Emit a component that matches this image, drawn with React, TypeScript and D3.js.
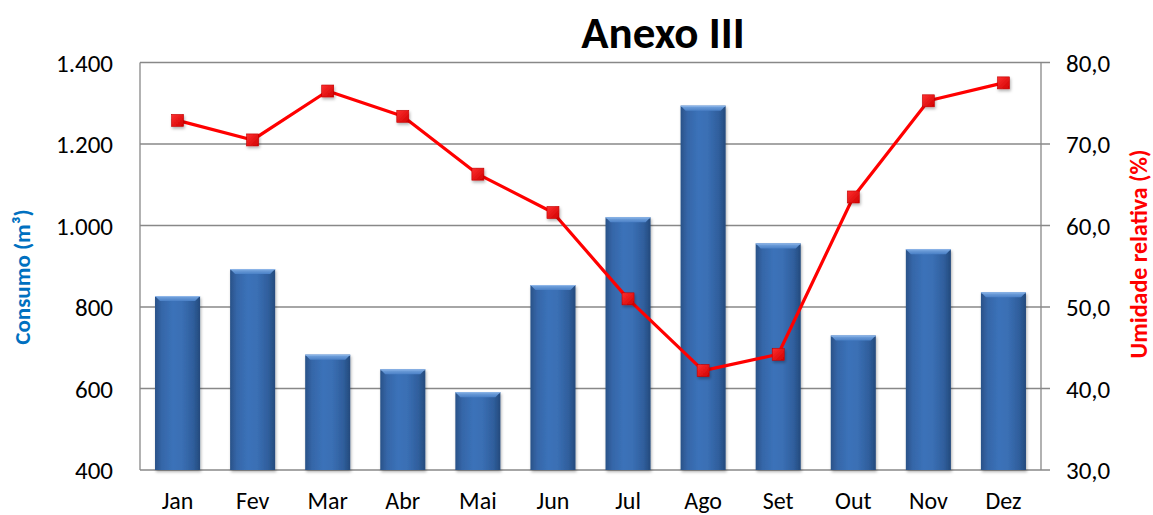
import React from "react";
import * as d3 from "d3";

const months = ["Jan", "Fev", "Mar", "Abr", "Mai", "Jun", "Jul", "Ago", "Set", "Out", "Nov", "Dez"];
const consumo = [827, 893, 683, 647, 591, 854, 1020, 1294, 956, 730, 942, 836];
const umidade = [72.9, 70.5, 76.5, 73.4, 66.3, 61.6, 51.0, 42.2, 44.2, 63.5, 75.3, 77.5];
const leftTicks = [400, 600, 800, 1000, 1200, 1400];
const rightTicks = [30, 40, 50, 60, 70, 80];
const title = "Anexo III";
const leftTitle = "Consumo (m³)";
const rightTitle = "Umidade relativa (%)";

const W = 1153;
const H = 515;
const plot = { left: 140, right: 1041, top: 62.5, bottom: 470 };
const FONT = "Carlito, Calibri, Lato, 'Open Sans', sans-serif";

const fmtLeft = (v: number) => d3.format(",")(v).replace(/,/g, ".");
const fmtRight = (v: number) => v.toFixed(1).replace(".", ",");

export default function App() {
  const x = d3.scaleBand<string>().domain(months).range([plot.left, plot.right]).paddingInner(0.4).paddingOuter(0.2);
  const yL = d3.scaleLinear().domain([400, 1400]).range([plot.bottom, plot.top]);
  const yR = d3.scaleLinear().domain([30, 80]).range([plot.bottom, plot.top]);
  const line = d3
    .line<number>()
    .x((_, i) => (x(months[i]) as number) + x.bandwidth() / 2)
    .y((d) => yR(d));
  const bw = x.bandwidth();
  const ms = 12;

  return (
    <svg
      width={W}
      height={H}
      style={{ position: "absolute", left: 0, top: 0, display: "block", background: "#fff" }}
    >
      <defs>
        <linearGradient id="barG" x1="0" x2="1" y1="0" y2="0">
          <stop offset="0" stopColor="#2a5288" />
          <stop offset="0.15" stopColor="#3566a8" />
          <stop offset="0.4" stopColor="#3b72b9" />
          <stop offset="0.6" stopColor="#3a6fb4" />
          <stop offset="0.85" stopColor="#2f5e9c" />
          <stop offset="1" stopColor="#244a7c" />
        </linearGradient>
        <linearGradient id="bevelG" x1="0" x2="0" y1="0" y2="1">
          <stop offset="0" stopColor="#7aa8e0" />
          <stop offset="1" stopColor="#4a80c6" />
        </linearGradient>
        <linearGradient id="mkG" x1="0" x2="1" y1="0" y2="1">
          <stop offset="0" stopColor="#ff3030" />
          <stop offset="1" stopColor="#d00000" />
        </linearGradient>
        <filter id="shadow" x="-50%" y="-50%" width="200%" height="200%">
          <feDropShadow dx="1" dy="2" stdDeviation="1.5" floodColor="#000" floodOpacity="0.3" />
        </filter>
      </defs>

      {/* gridlines */}
      {leftTicks.map((t) => (
        <line
          key={"g" + t}
          x1={plot.left}
          x2={plot.right + 9}
          y1={yL(t)}
          y2={yL(t)}
          stroke="#888888"
          strokeWidth={1.3}
        />
      ))}
      {/* axes */}
      <line x1={plot.left} x2={plot.left} y1={plot.top} y2={plot.bottom} stroke="#888888" strokeWidth={1.3} />
      <line x1={plot.right} x2={plot.right} y1={plot.top} y2={plot.bottom} stroke="#888888" strokeWidth={1.3} />

      {/* bars */}
      {consumo.map((v, i) => {
        const bx = x(months[i]) as number;
        const by = yL(v);
        const bh = plot.bottom - by;
        const bev = 5;
        return (
          <g key={"b" + i} filter="url(#shadow)">
            <rect x={bx} y={by} width={bw} height={bh} fill="url(#barG)" />
            <polygon
              points={`${bx},${by} ${bx + bw},${by} ${bx + bw - bev},${by + bev} ${bx + bev},${by + bev}`}
              fill="url(#bevelG)"
            />
            <rect x={bx} y={by} width={bw} height={1} fill="#8db5e8" />
          </g>
        );
      })}

      {/* line */}
      <path d={line(umidade) || ""} fill="none" stroke="#ff0000" strokeWidth={3.2} strokeLinejoin="round" />
      {umidade.map((v, i) => {
        const cx = (x(months[i]) as number) + bw / 2;
        const cy = yR(v);
        return (
          <rect
            key={"m" + i}
            x={cx - ms / 2}
            y={cy - ms / 2}
            width={ms}
            height={ms}
            fill="url(#mkG)"
            stroke="#c00000"
            strokeWidth={0.6}
            filter="url(#shadow)"
          />
        );
      })}

      {/* left tick labels */}
      {leftTicks.map((t) => (
        <text
          key={"lt" + t}
          x={113}
          y={yL(t)}
          dy="0.36em"
          textAnchor="end"
          fontFamily={FONT}
          fontSize={25}
          fill="#000"
        >
          {fmtLeft(t)}
        </text>
      ))}
      {/* right tick labels */}
      {rightTicks.map((t) => (
        <text
          key={"rt" + t}
          x={1066}
          y={yR(t)}
          dy="0.36em"
          textAnchor="start"
          fontFamily={FONT}
          fontSize={25}
          fill="#000"
        >
          {fmtRight(t)}
        </text>
      ))}
      {/* x labels */}
      {months.map((m) => (
        <text
          key={"xl" + m}
          x={(x(m) as number) + bw / 2}
          y={509}
          textAnchor="middle"
          fontFamily={FONT}
          fontSize={24}
          fill="#000"
        >
          {m}
        </text>
      ))}

      {/* title */}
      <text x={663} y={48} textAnchor="middle" fontFamily={FONT} fontWeight="bold" fontSize={45} fill="#000">
        {title}
      </text>
      {/* axis titles */}
      <text
        transform={`translate(30,277) rotate(-90)`}
        textAnchor="middle"
        fontFamily={FONT}
        fontWeight="bold"
        fontSize={23}
        fill="#0070c0"
      >
        {leftTitle}
      </text>
      <text
        transform={`translate(1147,254) rotate(-90)`}
        textAnchor="middle"
        fontFamily={FONT}
        fontWeight="bold"
        fontSize={24}
        fill="#ff0000"
      >
        {rightTitle}
      </text>
    </svg>
  );
}
